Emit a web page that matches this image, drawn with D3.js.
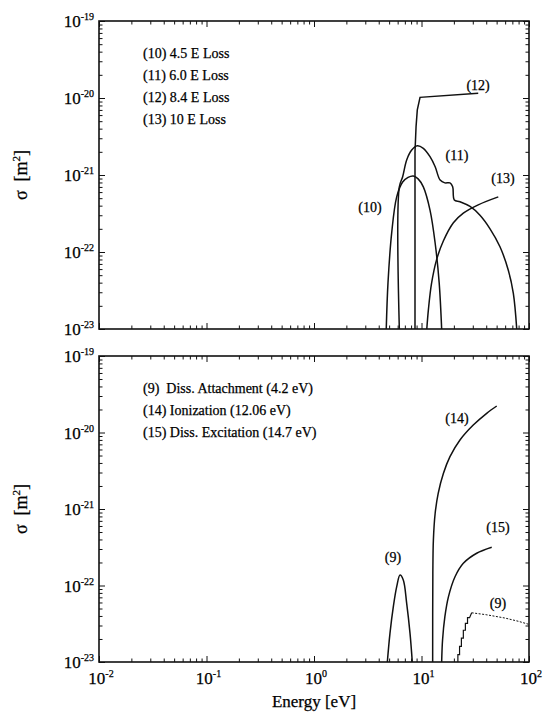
<!DOCTYPE html>
<html>
<head>
<script src="https://d3js.org/d3.v7.min.js"></script>
<style>
  body { margin: 0px; background: #fff; }
  svg text { font-family: "Liberation Serif", "Times New Roman", serif; fill: #000; stroke: #000; stroke-width: 0.25px; }
</style>
</head>
<body>
<svg id="viz" width="543" height="713"></svg>
<script>
// decade ticks
const xTicks = [1e-2, 1e-1, 1, 1e1, 1e2];
const yTicks = [1e-19, 1e-20, 1e-21, 1e-22, 1e-23];

// top panel, energy loss cross sections [eV, m^2]
const loss45 = [[4.7,1e-23],[4.88,4e-23],[5.28,1.77e-22],[5.88,5.2e-22],[6.68,8.1e-22],[7.5,9.3e-22],[8.39,9.7e-22],[9.3,8.9e-22],[10.4,7.0e-22],[12.0,3.5e-22],[13.4,1.3e-22],[14.6,4.0e-23],[15.4,1e-23]];
const loss60 = [[6.22,1e-23],[6.22,7.0e-22],[6.68,9.5e-22],[7.28,1.57e-21],[8.11,2.11e-21],[9.14,2.4e-21],[10.4,2.22e-21],[12.0,1.73e-21],[13.4,1.28e-21],[14.9,8.6e-22],[16.5,7.9e-22],[18.4,7.9e-22],[19.5,7.05e-22],[20.2,4.73e-22],[22.8,4.5e-22],[28.3,3.9e-22],[35.0,3.0e-22],[43.4,2.0e-22],[53.7,1.17e-22],[64.2,5.8e-23],[71.5,2.9e-23],[76.9,1e-23]];
const loss84 = [[8.7,1e-23],[8.7,2.0e-21],[8.9,4.25e-21],[9.14,7.0e-21],[9.69,1.02e-20],[33.7,1.15e-20]];
const loss100 = [[11.2,1e-23],[11.6,1.8e-23],[12.4,3.9e-23],[13.8,7.9e-23],[16.0,1.4e-22],[19.8,2.4e-22],[24.5,3.2e-22],[33.7,4.1e-22],[51.8,5.2e-22]];

// bottom panel
const attachLow = [[4.81,1e-23],[5.09,2.37e-23],[5.47,5.28e-23],[5.88,9.65e-23],[6.31,1.37e-22],[6.77,1.18e-22],[7.28,5.85e-23],[7.82,2.37e-23],[8.21,1e-23]];
const ionization = [[12.7,1e-23],[12.75,1.44e-22],[12.9,3.93e-22],[13.4,8.79e-22],[14.3,1.6e-21],[16.0,2.93e-21],[18.4,4.83e-21],[22.8,7.98e-21],[30.3,1.25e-20],[40.4,1.78e-20],[50.1,2.22e-20]];
const dissExc = [[15.4,1e-23],[15.7,1.94e-23],[16.5,3.91e-23],[17.8,7.1e-23],[20.5,1.3e-22],[24.5,1.95e-22],[32.6,2.64e-22],[45.0,3.16e-22]];
const attachHighSteps = [[21.8,1e-23],[21.8,1.25e-23],[22.6,1.25e-23],[22.6,1.6e-23],[23.5,1.6e-23],[23.5,2.05e-23],[24.5,2.05e-23],[24.5,2.6e-23],[25.6,2.6e-23],[25.6,3.2e-23],[26.8,3.2e-23],[26.8,3.8e-23],[28.0,3.8e-23],[29.3,4.4e-23]];
const attachHighTail = [[29.3,4.4e-23],[40,4.15e-23],[60,3.75e-23],[80,3.4e-23],[100,3.1e-23]];

// curve tags [label, E, sigma]
const topTags = [["(12)",33.6,1.48e-20],["(11)",21.4,1.82e-21],["(13)",57.3,9.1e-22],["(10)",3.32,3.84e-22]];
const bottomTags = [["(14)",21.4,1.55e-20],["(15)",51.5,5.82e-22],["(9)",5.43,2.36e-22],["(9)",51.5,5.9e-23]];

const topLegend = ["(10) 4.5 E Loss", "(11) 6.0 E Loss", "(12) 8.4 E Loss", "(13) 10 E Loss"];
const bottomLegend = ["(9)  Diss. Attachment (4.2 eV)", "(14) Ionization (12.06 eV)", "(15) Diss. Excitation (14.7 eV)"];

const svg = d3.select("svg#viz");
const left = 99, right = 529;

const x = d3.scaleLog().domain([1e-2, 1e2]).range([left, right]);

const minor = [];
xTicks.slice(0, -1).forEach(d => { for (let k = 2; k <= 9; k++) minor.push(d * k); });
const yMinor = [];
yTicks.slice(1).forEach(d => { for (let k = 2; k <= 9; k++) yMinor.push(d * k); });

function expOf(v) { return Math.round(Math.log10(v)); }

function panel(id, top, bottom, curves, tags, legend, withXLabels) {
  const y = d3.scaleLog().domain([1e-23, 1e-19]).range([bottom, top]);
  const g = svg.append("g");

  g.append("clipPath").attr("id", id)
    .append("rect").attr("x", left).attr("y", top)
    .attr("width", right - left).attr("height", bottom - top);

  // ticks, all pointing inwards
  const addAxis = (axis, tf, vals, size) => {
    const a = g.append("g").attr("transform", tf)
      .call(axis.tickValues(vals).tickSize(size).tickSizeOuter(0).tickFormat(""));
    a.select(".domain").remove();
    a.selectAll("line").attr("stroke", "#111").attr("stroke-width", 1);
  };
  addAxis(d3.axisBottom(x), `translate(0,${bottom})`, xTicks, -6);
  addAxis(d3.axisBottom(x), `translate(0,${bottom})`, minor, -3.5);
  addAxis(d3.axisTop(x), `translate(0,${top})`, xTicks, -6);
  addAxis(d3.axisTop(x), `translate(0,${top})`, minor, -3.5);
  addAxis(d3.axisLeft(y), `translate(${left},0)`, yTicks, -6);
  addAxis(d3.axisLeft(y), `translate(${left},0)`, yMinor, -3.5);
  addAxis(d3.axisRight(y), `translate(${right},0)`, yTicks, -6);
  addAxis(d3.axisRight(y), `translate(${right},0)`, yMinor, -3.5);

  g.append("rect").attr("x", left).attr("y", top)
    .attr("width", right - left).attr("height", bottom - top)
    .attr("fill", "none").attr("stroke", "#111").attr("stroke-width", 1.6);

  // y tick labels
  yTicks.forEach(v => {
    const t = g.append("text").attr("x", left - 5).attr("y", y(v) + 6)
      .attr("text-anchor", "end").attr("font-size", 17);
    t.append("tspan").text("10");
    t.append("tspan").attr("dy", -7).attr("font-size", 10).text(expOf(v));
  });

  if (withXLabels) {
    xTicks.forEach(v => {
      const t = g.append("text").attr("x", x(v) + 2).attr("y", bottom + 22)
        .attr("text-anchor", "middle").attr("font-size", 17);
      t.append("tspan").text("10");
      t.append("tspan").attr("dy", -7).attr("font-size", 10).text(expOf(v));
    });
  }

  // y label
  const cy = (top + bottom) / 2;
  const yl = g.append("text").attr("transform", `translate(27,${cy}) rotate(-90)`)
    .attr("text-anchor", "middle").attr("font-size", 18).attr("xml:space", "preserve")
    .style("white-space", "pre");
  yl.append("tspan").text("\u03c3  [m");
  yl.append("tspan").attr("dy", -7).attr("font-size", 11).text("2");
  yl.append("tspan").attr("dy", 7).text("]");

  const plot = g.append("g").attr("clip-path", `url(#${id})`);
  curves.forEach(c => {
    const line = d3.line().x(d => x(d[0])).y(d => y(d[1]))
      .curve(c.smooth ? d3.curveCatmullRom.alpha(0.5) : d3.curveLinear);
    plot.append("path").datum(c.data).attr("d", line)
      .attr("fill", "none").attr("stroke", "#111")
      .attr("stroke-width", c.w || 1.5)
      .attr("stroke-dasharray", c.dash || null);
  });

  tags.forEach(t => {
    g.append("text").attr("x", x(t[1])).attr("y", y(t[2])).attr("dy", "0.35em")
      .attr("text-anchor", "middle").attr("font-size", 14).text(t[0]);
  });

  legend.forEach((s, i) => {
    g.append("text").attr("x", 143).attr("y", top + 32 + i * 22 + 5)
      .attr("font-size", 14).attr("xml:space", "preserve")
      .style("white-space", "pre").text(s);
  });
}

panel("clipTop", 21, 329, [
  { data: loss45, smooth: true },
  { data: loss60, smooth: true },
  { data: loss84, smooth: false },
  { data: loss100, smooth: true }
], topTags, topLegend, false);

panel("clipBottom", 356, 662, [
  { data: attachLow, smooth: true },
  { data: ionization, smooth: true },
  { data: dissExc, smooth: true },
  { data: attachHighSteps, smooth: false, w: 1.2 },
  { data: attachHighTail, smooth: false, w: 1, dash: "2,1.5" }
], bottomTags, bottomLegend, true);

svg.append("text").attr("x", 314).attr("y", 707)
  .attr("text-anchor", "middle").attr("font-size", 17).text("Energy [eV]");
</script>
</body>
</html>
